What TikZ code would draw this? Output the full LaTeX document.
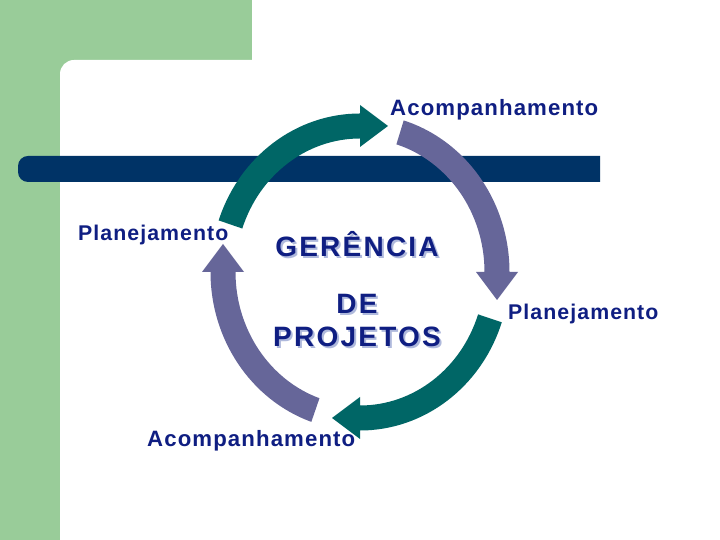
\documentclass[tikz,border=0pt]{standalone}
\usepackage{fontspec}
\setmainfont{Liberation Sans}
\newfontfamily\acofont[LetterSpace=5]{Liberation Sans}
\newfontfamily\plafont[LetterSpace=5]{Liberation Sans}
\newfontfamily\ttlfont[LetterSpace=8]{Liberation Sans}
\usetikzlibrary{calc}
\definecolor{bggreen}{RGB}{153,204,153}
\definecolor{barblue}{RGB}{0,51,102}
\definecolor{ringteal}{RGB}{0,102,102}
\definecolor{ringpurple}{RGB}{102,102,153}
\definecolor{txtblue}{RGB}{15,30,130}
\definecolor{shadowblue}{RGB}{175,185,220}
\newcommand\ringarrow[3]{%
  \fill[#3] ($(C)+(#1:149.5pt and 158.5pt)$)
    arc[start angle=#1,end angle=#2,x radius=149.5pt,y radius=158.5pt]
    -- ($(C)+(#2:137pt and 146pt)+(#2:21pt)$)
    -- ($(C)+(#2:137pt and 146pt)+(#2-90:28pt)$)
    -- ($(C)+(#2:137pt and 146pt)+(#2:-21pt)$)
    -- ($(C)+(#2:124.5pt and 133.5pt)$)
    arc[start angle=#2,end angle=#1,x radius=124.5pt,y radius=133.5pt]
    -- cycle;}
\newcommand\shadowed[1]{\makebox[0pt][l]{\hspace{2pt}\raisebox{-2pt}{\color{shadowblue}#1}}#1}
\tikzset{
  aco/.style={text=txtblue,inner sep=0pt,font=\acofont\bfseries\fontsize{22.2}{24}\selectfont},
  pla/.style={text=txtblue,inner sep=0pt,font=\plafont\bfseries\fontsize{21.3}{24}\selectfont},
  ttl/.style={text=txtblue,inner sep=0pt,anchor=base,font=\ttlfont\bfseries\fontsize{28}{30}\selectfont}
}
\begin{document}
\begin{tikzpicture}[x=1pt,y=1pt]
\useasboundingbox (0,0) rectangle (720,540);
\fill[white] (0,0) rectangle (720,540);
\fill[bggreen] (0,0) rectangle (252,540);
\fill[white,rounded corners=14pt] (60,-40) rectangle (780,480);
% dark bar
\fill[barblue] (600,358) -- (28,358) arc[start angle=270,end angle=180,radius=10]
  -- (18,374) arc[start angle=180,end angle=90,radius=10] -- (600,384) -- cycle;
% ring of arrows
\coordinate (C) at (360,268);
\ringarrow{161}{90}{ringteal}
\ringarrow{73}{0}{ringpurple}
\ringarrow{-18.5}{-90}{ringteal}
\ringarrow{251}{180}{ringpurple}
% labels
\node[aco,anchor=base west] (acotop) at (390,424) {Acompanhamento};
\node[aco,anchor=base west] (acobot) at (147,93) {Acompanhamento};
\node[pla,anchor=base west] (plaleft) at (78,299) {Planejamento};
\node[pla,anchor=base west] (plaright) at (508,220) {Planejamento};
% title with shadow
\node[ttl] (ger) at (357,283) {\shadowed{GERÊNCIA}};
\node[ttl] (de) at (357,226) {\shadowed{DE}};
\node[ttl] (proj) at (357,193) {\shadowed{PROJETOS}};
\end{tikzpicture}
\end{document}
